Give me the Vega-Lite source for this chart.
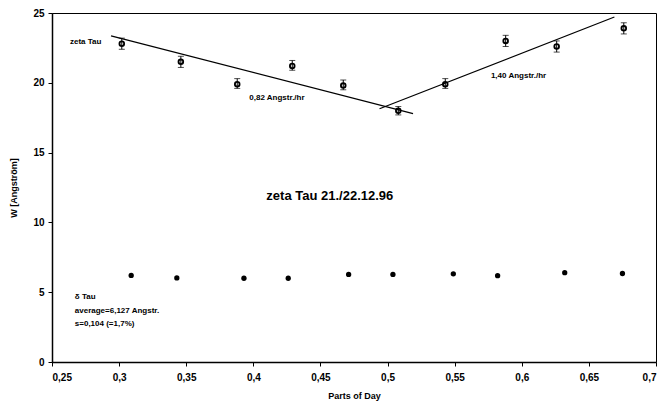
{
  "$schema": "https://vega.github.io/schema/vega-lite/v6.json",
  "autosize": "none",
  "width": 604,
  "height": 349,
  "padding": {"left": 52, "top": 13, "right": 12, "bottom": 47},
  "background": "white",
  "config": {
    "view": {"stroke": "black", "strokeWidth": 1},
    "font": "Liberation Sans",
    "axis": {"grid": false, "domainColor": "black", "tickColor": "black", "labelColor": "black", "titleColor": "black", "labelFont": "Liberation Sans", "labelFontWeight": "bold", "labelFontSize": 10, "titleFont": "Liberation Sans", "titleFontWeight": "bold", "titleFontSize": 9, "domainWidth": 1.5}
  },
  "datasets": {
    "zeta": [
      {"x": 0.302, "w": 22.8, "lo": 22.4, "hi": 23.2},
      {"x": 0.346, "w": 21.5, "lo": 21.1, "hi": 21.9},
      {"x": 0.388, "w": 19.9, "lo": 19.6, "hi": 20.3},
      {"x": 0.429, "w": 21.2, "lo": 20.9, "hi": 21.6},
      {"x": 0.467, "w": 19.8, "lo": 19.5, "hi": 20.2},
      {"x": 0.508, "w": 18.0, "lo": 17.7, "hi": 18.3},
      {"x": 0.543, "w": 19.9, "lo": 19.6, "hi": 20.3},
      {"x": 0.588, "w": 23.0, "lo": 22.6, "hi": 23.4},
      {"x": 0.626, "w": 22.6, "lo": 22.2, "hi": 23.0},
      {"x": 0.676, "w": 23.9, "lo": 23.5, "hi": 24.3}
    ],
    "delta": [
      {"x": 0.309, "w": 6.2},
      {"x": 0.343, "w": 6.02},
      {"x": 0.393, "w": 6.0},
      {"x": 0.426, "w": 6.0},
      {"x": 0.471, "w": 6.27},
      {"x": 0.504, "w": 6.27},
      {"x": 0.549, "w": 6.32},
      {"x": 0.582, "w": 6.18},
      {"x": 0.632, "w": 6.4},
      {"x": 0.675, "w": 6.34}
    ],
    "fits": [
      {"seg": "a", "x": 0.294, "w": 23.36},
      {"seg": "a", "x": 0.519, "w": 17.79},
      {"seg": "b", "x": 0.494, "w": 18.14},
      {"seg": "b", "x": 0.669, "w": 24.71}
    ],
    "notes": [
      {"x": 0.2634, "w": 22.9, "t": "zeta Tau"},
      {"x": 0.397, "w": 18.9, "t": "0,82 Angstr./hr"},
      {"x": 0.577, "w": 20.5, "t": "1,40 Angstr./hr"},
      {"x": 0.267, "w": 4.64, "t": "δ Tau"},
      {"x": 0.267, "w": 3.64, "t": "average=6,127 Angstr."},
      {"x": 0.267, "w": 2.71, "t": "s=0,104 (=1,7%)"}
    ],
    "title": [
      {"x": 0.457, "w": 11.86, "t": "zeta Tau 21./22.12.96"}
    ]
  },
  "layer": [
    {
      "data": {"name": "fits"},
      "mark": {"type": "line", "color": "black", "strokeWidth": 1.2},
      "encoding": {
        "x": {"field": "x", "type": "quantitative", "scale": {"domain": [0.25, 0.7], "nice": false}, "axis": {"values": [0.25, 0.3, 0.35, 0.4, 0.45, 0.5, 0.55, 0.6, 0.65, 0.7], "labelExpr": "replace(format(datum.value, '.2~f'), '.', ',')", "title": "Parts of Day", "titlePadding": 9, "labelPadding": 6, "tickSize": 4}},
        "y": {"field": "w", "type": "quantitative", "scale": {"domain": [0, 25], "nice": false}, "axis": {"values": [0, 5, 10, 15, 20, 25], "title": "W [Angström]", "titlePadding": 14, "labelPadding": 4, "tickSize": 4}},
        "detail": {"field": "seg"}
      }
    },
    {
      "data": {"name": "zeta"},
      "mark": {"type": "rule", "color": "black", "strokeWidth": 1},
      "encoding": {
        "x": {"field": "x", "type": "quantitative"},
        "y": {"field": "lo", "type": "quantitative"},
        "y2": {"field": "hi"}
      }
    },
    {
      "data": {"name": "zeta"},
      "mark": {"type": "tick", "orient": "horizontal", "color": "black", "size": 6, "thickness": 1},
      "encoding": {
        "x": {"field": "x", "type": "quantitative"},
        "y": {"field": "lo", "type": "quantitative"}
      }
    },
    {
      "data": {"name": "zeta"},
      "mark": {"type": "tick", "orient": "horizontal", "color": "black", "size": 6, "thickness": 1},
      "encoding": {
        "x": {"field": "x", "type": "quantitative"},
        "y": {"field": "hi", "type": "quantitative"}
      }
    },
    {
      "data": {"name": "zeta"},
      "mark": {"type": "point", "shape": "circle", "filled": false, "color": "black", "size": 22, "strokeWidth": 1.8, "opacity": 1},
      "encoding": {
        "x": {"field": "x", "type": "quantitative"},
        "y": {"field": "w", "type": "quantitative"}
      }
    },
    {
      "data": {"name": "delta"},
      "mark": {"type": "point", "shape": "circle", "filled": true, "color": "black", "size": 28, "opacity": 1},
      "encoding": {
        "x": {"field": "x", "type": "quantitative"},
        "y": {"field": "w", "type": "quantitative"}
      }
    },
    {
      "data": {"name": "notes"},
      "mark": {"type": "text", "align": "left", "baseline": "middle", "fontSize": 8, "fontWeight": "bold", "color": "black"},
      "encoding": {
        "x": {"field": "x", "type": "quantitative"},
        "y": {"field": "w", "type": "quantitative"},
        "text": {"field": "t"}
      }
    },
    {
      "data": {"name": "title"},
      "mark": {"type": "text", "align": "center", "baseline": "middle", "fontSize": 13, "fontWeight": "bold", "color": "black"},
      "encoding": {
        "x": {"field": "x", "type": "quantitative"},
        "y": {"field": "w", "type": "quantitative"},
        "text": {"field": "t"}
      }
    }
  ]
}
